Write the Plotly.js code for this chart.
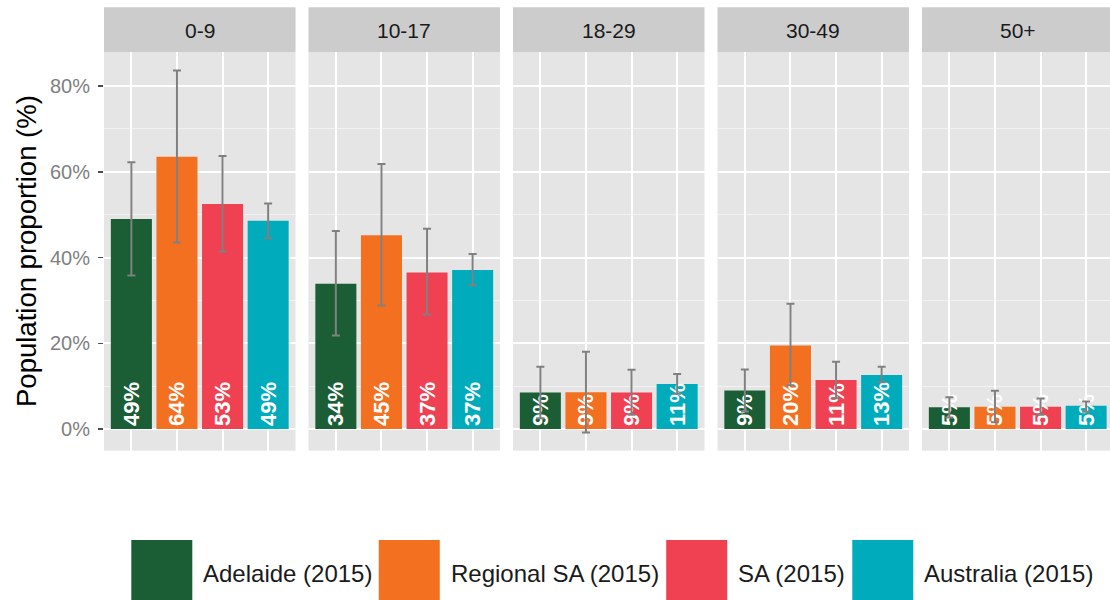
<!DOCTYPE html>
<html>
<head>
<meta charset="utf-8">
<script src="https://cdn.plot.ly/plotly-3.0.1.min.js"></script>
<style>
  html, body { margin: 0; padding: 0; background: #ffffff; }
  #chart { width: 1110px; height: 600px; }
</style>
</head>
<body>
<div id="chart"></div>
<script>
// ---- data ----
const categories = ['0-9', '10-17', '18-29', '30-49', '50+'];
const series = ['Adelaide (2015)', 'Regional SA (2015)', 'SA (2015)', 'Australia (2015)'];
const seriesColors = ['#1b5e35', '#f37021', '#ef4152', '#00abbc'];

// bar values (%), per age group
const adelaide  = [49.0, 33.9, 8.5, 9.0, 5.1];
const regional  = [63.5, 45.2, 8.6, 19.5, 5.2];
const sa        = [52.5, 36.5, 8.5, 11.4, 5.2];
const australia = [48.6, 37.1, 10.5, 12.6, 5.4];

// error bar upper / lower limits (%)
const adelaideHi  = [62.2, 46.2, 14.5, 13.9, 7.4];
const adelaideLo  = [35.8, 21.8, 2.5, 4.1, 2.7];
const regionalHi  = [83.6, 61.8, 18.0, 29.2, 8.9];
const regionalLo  = [43.5, 28.8, -0.8, 10.2, 1.6];
const saHi        = [63.7, 46.7, 13.8, 15.7, 7.1];
const saLo        = [41.4, 26.7, 3.3, 7.2, 3.3];
const australiaHi = [52.6, 40.8, 12.8, 14.5, 6.4];
const australiaLo = [44.5, 33.5, 8.2, 10.9, 4.0];

const yTickVals = [0, 20, 40, 60, 80];
const yMinorVals = [10, 30, 50, 70];
const yTitle = 'Population proportion (%)';

// ---- build ----
const W = 1110, H = 600;
const FONT = 'Arial, "Liberation Sans", sans-serif';
const values = [adelaide, regional, sa, australia];
const his = [adelaideHi, regionalHi, saHi, australiaHi];
const los = [adelaideLo, regionalLo, saLo, australiaLo];

const panelStart = [104, 308.5, 513, 717.5, 922];
const panelW = 191.5;
const unit = panelW / 4.2;
const yTopPx = 52.3, yBotPx = 450.7;
const yDomain = [1 - yBotPx / H, 1 - yTopPx / H];
const yRange = [-(yBotPx - 429) / 4.2875, (429 - yTopPx) / 4.2875];

const traces = [];
const layout = {
  width: W, height: H,
  margin: {l: 0, r: 0, t: 0, b: 0},
  paper_bgcolor: '#ffffff',
  plot_bgcolor: '#e5e5e5',
  showlegend: false,
  barmode: 'overlay',
  font: {family: FONT},
  shapes: [],
  annotations: []
};

categories.forEach((cat, i) => {
  const k = i + 1;
  const xs = k === 1 ? 'x' : 'x' + k;
  const ys = k === 1 ? 'y' : 'y' + k;
  const yv = series.map((s, j) => values[j][i]);
  traces.push({
    type: 'bar',
    x: series,
    y: yv,
    xaxis: xs, yaxis: ys,
    width: 0.9,
    marker: {color: seriesColors, line: {width: 0}},
    text: yv.map(v => Math.round(v) + '%'),
    textposition: 'inside',
    insidetextanchor: 'start',
    textangle: -90,
    constraintext: 'none',
    textfont: {family: FONT, size: 22, color: '#ffffff', weight: 'bold'},
    error_y: {
      type: 'data', symmetric: false,
      array: series.map((s, j) => his[j][i] - values[j][i]),
      arrayminus: series.map((s, j) => values[j][i] - los[j][i]),
      color: '#808080', thickness: 2, width: 4
    },
    hoverinfo: 'x+y'
  });

  const x0 = panelStart[i];
  const x1 = Math.min(x0 + panelW, W);
  const rEnd = -0.6 + (x1 - x0) / unit;
  layout['xaxis' + (k === 1 ? '' : k)] = {
    domain: [x0 / W, x1 / W],
    anchor: ys,
    type: 'category',
    categoryarray: series,
    range: [-0.6, rEnd],
    showticklabels: false,
    ticks: '',
    showgrid: true, gridcolor: '#ffffff', gridwidth: 2,
    zeroline: false, showline: false, fixedrange: true
  };
  layout['yaxis' + (k === 1 ? '' : k)] = {
    domain: yDomain,
    anchor: xs,
    range: yRange,
    tickvals: yTickVals,
    ticktext: yTickVals.map(v => v + '%'),
    showticklabels: k === 1,
    ticks: k === 1 ? 'outside' : '',
    ticklen: 5, tickwidth: 1.5, tickcolor: '#4d4d4d',
    ticklabelstandoff: 4,
    tickfont: {family: FONT, size: 20, color: '#7f7f7f'},
    showgrid: true, gridcolor: '#ffffff', gridwidth: 2,
    minor: {tickvals: yMinorVals, showgrid: true, gridcolor: '#f2f2f2', gridwidth: 1, ticks: ''},
    zeroline: false, showline: false, fixedrange: true
  };

  // facet strip
  layout.shapes.push({
    type: 'rect', xref: xs + ' domain', yref: 'paper',
    x0: 0, x1: 1, y0: 1 - 52.3 / H, y1: 1 - 7.3 / H,
    fillcolor: '#cccccc', line: {width: 0}, layer: 'below'
  });
  layout.annotations.push({
    xref: xs + ' domain', yref: 'paper',
    x: (0.5 * panelW) / (x1 - x0), y: 1 - 30 / H,
    text: cat, showarrow: false,
    xanchor: 'center', yanchor: 'middle',
    font: {family: FONT, size: 21, color: '#1a1a1a'}
  });
});

// y-axis title
layout.annotations.push({
  xref: 'paper', yref: 'paper',
  x: 26 / W, y: 1 - 251 / H,
  text: yTitle, textangle: -90, showarrow: false,
  xanchor: 'center', yanchor: 'middle',
  font: {family: FONT, size: 27.5, color: '#000000'}
});

// legend (drawn manually: large ggplot-style keys)
const legFontSize = 24;
const ctx = document.createElement('canvas').getContext('2d');
ctx.font = legFontSize + 'px "Liberation Sans", Arial, sans-serif';
const textW = series.map(s => ctx.measureText(s).width);
const keyW = 61, keyGap = 9, itemGap = 8;
const totalW = series.length * (keyW + keyGap) + textW.reduce((a, b) => a + b, 0) + (series.length - 1) * itemGap;
let cx = 611.5 - totalW / 2;
series.forEach((s, j) => {
  layout.shapes.push({
    type: 'rect', xref: 'paper', yref: 'paper',
    x0: cx / W, x1: (cx + keyW) / W, y0: 1 - 603 / H, y1: 1 - 540 / H,
    fillcolor: seriesColors[j], line: {width: 0}
  });
  cx += keyW + keyGap;
  layout.annotations.push({
    xref: 'paper', yref: 'paper',
    x: cx / W, y: 1 - 573 / H,
    text: s, showarrow: false,
    xanchor: 'left', yanchor: 'middle',
    font: {family: FONT, size: legFontSize, color: '#1a1a1a'}
  });
  cx += textW[j] + itemGap;
});

Plotly.newPlot('chart', traces, layout, {displayModeBar: false, staticPlot: true});
</script>
</body>
</html>
